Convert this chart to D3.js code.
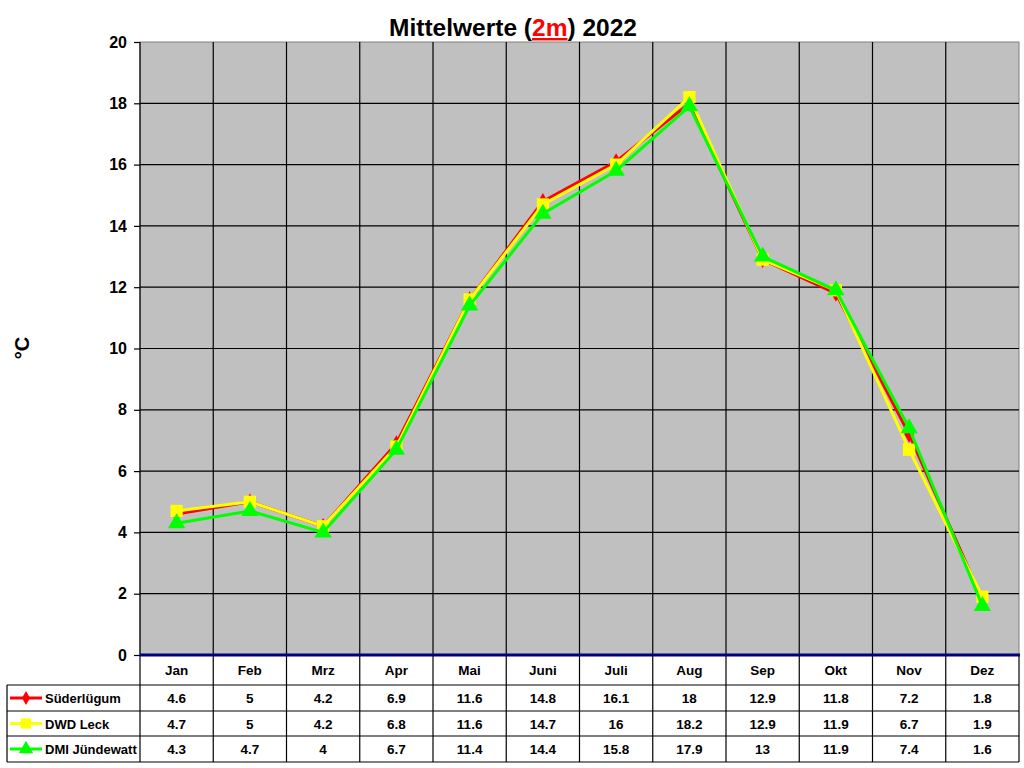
<!DOCTYPE html>
<html><head><meta charset="utf-8">
<script src="https://cdn.jsdelivr.net/npm/d3@7/dist/d3.min.js"></script>
<style>body{margin:0;background:#fff;} svg{display:block;font-family:"Liberation Sans",Arial,sans-serif;font-weight:bold;}</style>
</head><body>
<svg id="c" width="1024" height="768"></svg>
<script>
const months = ["Jan","Feb","Mrz","Apr","Mai","Juni","Juli","Aug","Sep","Okt","Nov","Dez"];
const suederluegum = [4.6,5,4.2,6.9,11.6,14.8,16.1,18,12.9,11.8,7.2,1.8];
const dwdLeck = [4.7,5,4.2,6.8,11.6,14.7,16,18.2,12.9,11.9,6.7,1.9];
const dmiJuendewatt = [4.3,4.7,4,6.7,11.4,14.4,15.8,17.9,13,11.9,7.4,1.6];
const seriesNames = ["Süderlügum","DWD Leck","DMI Jündewatt"];
const yTicks = [0,2,4,6,8,10,12,14,16,18,20];

const series = [
  {name:seriesNames[0], values:suederluegum, color:"#ff0000", marker:"diamond"},
  {name:seriesNames[1], values:dwdLeck, color:"#ffff00", marker:"square"},
  {name:seriesNames[2], values:dmiJuendewatt, color:"#00ff00", marker:"triangle"}
];

const svg = d3.select("#c");
const L = 140, R = 1019, T = 42, B = 655;
const x = d3.scaleBand().domain(months).range([L,R]);
const y = d3.scaleLinear().domain([0,20]).range([B,T]);

svg.append("rect").attr("x",L).attr("y",T).attr("width",R-L).attr("height",B-T)
  .attr("fill","#c0c0c0").attr("stroke","#808080").attr("stroke-width",1);

svg.append("g").selectAll("line").data(yTicks.filter(d=>d>0&&d<20)).join("line")
  .attr("x1",L).attr("x2",R).attr("y1",d=>y(d)).attr("y2",d=>y(d))
  .attr("stroke","#000").attr("stroke-width",1.2);
svg.append("g").selectAll("line").data(months.slice(1)).join("line")
  .attr("x1",d=>x(d)).attr("x2",d=>x(d)).attr("y1",T).attr("y2",B)
  .attr("stroke","#000").attr("stroke-width",1.2);

const yAxis = d3.axisLeft(y).tickValues(yTicks).tickSize(6).tickPadding(7).tickFormat(d3.format("d"));
const ga = svg.append("g").attr("transform",`translate(${L},0)`).call(yAxis);
ga.select(".domain").attr("stroke","#000").attr("stroke-width",1.2).attr("d",`M0,${T}V${B}`);
ga.selectAll(".tick line").attr("stroke","#000").attr("stroke-width",1.2);
ga.selectAll(".tick text").attr("font-size",16).attr("font-weight","bold")
  .attr("font-family","Liberation Sans, Arial, sans-serif").attr("fill","#000");

svg.append("text").attr("transform","translate(29,348) rotate(-90)").attr("text-anchor","middle")
  .attr("font-size",20).text("°C");

const title = svg.append("text").attr("x",513).attr("y",36).attr("text-anchor","middle").attr("font-size",24.5);
title.append("tspan").text("Mittelwerte (");
title.append("tspan").attr("fill","#ff0000").attr("text-decoration","underline").text("2m");
title.append("tspan").text(") 2022");

const line = d3.line().x((d,i)=>x(months[i])+x.bandwidth()/2).y(d=>y(d));
const symbolFor = {diamond:d3.symbolDiamond, square:d3.symbolSquare, triangle:d3.symbolTriangle};
const sizeFor = {diamond:80, square:150, triangle:130};
series.forEach(s=>{
  svg.append("path").datum(s.values).attr("d",line).attr("fill","none")
    .attr("stroke",s.color).attr("stroke-width",3).attr("stroke-linejoin","miter");
  svg.append("g").selectAll("path").data(s.values).join("path")
    .attr("transform",(d,i)=>`translate(${x(months[i])+x.bandwidth()/2},${y(d)})`)
    .attr("d",d3.symbol().type(symbolFor[s.marker]).size(sizeFor[s.marker]))
    .attr("fill",s.color);
});

const rowY = [655,685,711,736,762];
const tbl = svg.append("g");
tbl.selectAll("line.v").data(months.concat(["end"])).join("line")
  .attr("x1",(d,i)=>i<12?x(d):R).attr("x2",(d,i)=>i<12?x(d):R)
  .attr("y1",rowY[0]).attr("y2",rowY[4]).attr("stroke","#000").attr("stroke-width",1.2);
tbl.append("line").attr("x1",7).attr("x2",7).attr("y1",rowY[1]).attr("y2",rowY[4]).attr("stroke","#000").attr("stroke-width",1.2);
[1,2,3,4].forEach(k=>{
  tbl.append("line").attr("x1",7).attr("x2",R).attr("y1",rowY[k]).attr("y2",rowY[k]).attr("stroke","#000").attr("stroke-width",1.2);
});
tbl.selectAll("text.m").data(months).join("text")
  .attr("x",d=>x(d)+x.bandwidth()/2).attr("y",(rowY[0]+rowY[1])/2+5).attr("text-anchor","middle")
  .attr("font-size",13.5).text(d=>d);
series.forEach((s,k)=>{
  const cy = (rowY[k+1]+rowY[k+2])/2;
  tbl.append("line").attr("x1",10).attr("x2",42).attr("y1",cy).attr("y2",cy).attr("stroke",s.color).attr("stroke-width",3);
  tbl.append("path").attr("transform",`translate(26,${cy})`)
    .attr("d",d3.symbol().type(symbolFor[s.marker]).size(sizeFor[s.marker]*0.7)).attr("fill",s.color);
  tbl.append("text").attr("x",45).attr("y",cy+5).attr("font-size",13).text(s.name);
  tbl.selectAll(null).data(s.values).join("text")
    .attr("x",(d,i)=>x(months[i])+x.bandwidth()/2).attr("y",cy+5).attr("text-anchor","middle")
    .attr("font-size",13.5).text(d=>d);
});

svg.append("line").attr("x1",L).attr("x2",R+1).attr("y1",B).attr("y2",B).attr("stroke","#000080").attr("stroke-width",3);
</script>
</body></html>
